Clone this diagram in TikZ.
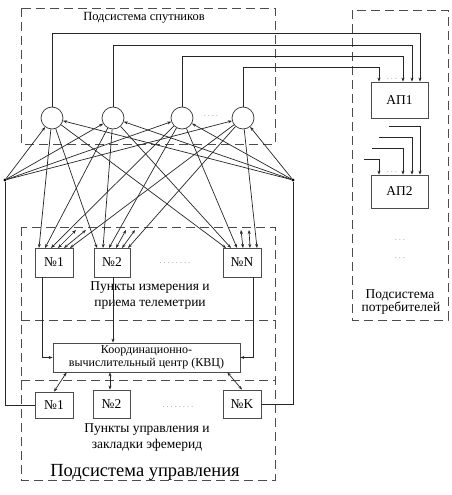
\documentclass[tikz,border=0pt]{standalone}
\usepackage{fontspec}
\setmainfont{Liberation Serif}
\usetikzlibrary{arrows.meta,calc}
\begin{document}
\begin{tikzpicture}[x=1pt,y=-1pt,
  conn/.style={line width=0.7pt,draw=black!85},
  arr/.style={conn,-{Stealth[length=4pt,width=3pt]}},
  darr/.style={conn,{Stealth[length=4pt,width=3pt]}-{Stealth[length=4pt,width=3pt]}},
  grp/.style={draw=black!70,line width=0.9pt,dash pattern=on 9pt off 5pt},
  sat/.style={circle,draw=black!80,line width=0.7pt,minimum size=22pt,inner sep=0pt},
  stbox/.style={draw=black!70,line width=0.8pt,minimum width=38pt,minimum height=29pt,inner sep=0pt,font=\fontsize{13.5}{14}\selectfont},
  lbl/.style={font=\fontsize{13.5}{15}\selectfont,inner sep=0pt,align=center},
  dotsl/.style={font=\fontsize{7}{8}\selectfont,inner sep=0pt,text=black!60},
  bp/.style={circle,fill=black,inner sep=0pt,minimum size=3.2pt}]
\useasboundingbox (0,0) rectangle (451,495);

% group boxes
\draw[grp] (21,8) rectangle (275,144);
\draw[grp] (21,227) rectangle (275,480);
\draw[grp] (21,320) -- (275,320);
\draw[grp] (21,380) -- (275,380);
\draw[grp] (352,10) rectangle (448,320);

% labels of groups
\node[lbl,font=\fontsize{12.5}{14}\selectfont] (tsat) at (144,18) {Подсистема спутников};
\node[lbl] (tmeas1) at (150,288) {Пункты измерения и};
\node[lbl] (tmeas2) at (150,305) {приема телеметрии};
\node[lbl] (tctl1) at (147,430) {Пункты управления и};
\node[lbl] (tctl2) at (147,445) {закладки эфемерид};
\node[lbl,font=\fontsize{18.5}{20}\selectfont] (tctl) at (145,472) {Подсистема управления};
\node[lbl] (tcons1) at (400,295) {Подсистема};
\node[lbl] (tcons2) at (401,308) {потребителей};

% satellites
\node[sat] (s1) at (52,118) {};
\node[sat] (s2) at (113,118) {};
\node[sat] (s3) at (182,118) {};
\node[sat] (s4) at (243,118) {};
\node[dotsl] (sd) at (211,116) {. . . .};

% branch points
\node[bp] (L) at (5,180) {};
\node[bp] (R) at (293,180) {};

% measurement stations
\node[stbox] (m1) at (54,262.5) {№1};
\node[stbox,minimum width=36pt] (m2) at (112,262.5) {№2};
\node[stbox] (mN) at (242,262.5) {№N};
\node[dotsl] (md) at (175,263) {. . . . . . . .};

% KVC
\node[stbox,minimum width=187pt,minimum height=29pt,align=center,font=\fontsize{12}{13}\selectfont] (kvc) at (146.5,357.5) {Координационно-\\вычислительный центр (КВЦ)};

% control stations
\node[stbox,minimum height=26pt] (c1) at (54,405) {№1};
\node[stbox,minimum width=37pt,minimum height=28pt] (c2) at (111.5,404) {№2};
\node[stbox,minimum height=28pt] (cK) at (242,404) {№K};
\node[dotsl] (cd) at (178,407) {. . . . . . . .};

% consumers
\node[stbox,minimum width=57pt,minimum height=36pt] (a1) at (399.5,100) {АП1};
\node[stbox,minimum width=57pt,minimum height=33pt] (a2) at (399.5,191.5) {АП2};
\node[dotsl] (ad1) at (400,240) {. . .};
\node[dotsl] (ad2) at (400,258) {. . .};
\node[dotsl] (ad3) at (392,79) {. . .};
\node[dotsl] (ad4) at (392,172) {. . .};

% satellites to AP1
\draw[arr] (s1.north) |- ([xshift=20.5pt,yshift=48pt]a1.north) -- ([xshift=20.5pt]a1.north);
\draw[arr] (s2.north) |- ([xshift=12.5pt,yshift=36pt]a1.north) -- ([xshift=12.5pt]a1.north);
\draw[arr] (s3.north) |- ([xshift=3.5pt,yshift=25pt]a1.north) -- ([xshift=3.5pt]a1.north);
\draw[arr] (s4.north) |- ([xshift=-20.5pt,yshift=14pt]a1.north) -- ([xshift=-20.5pt]a1.north);

% incoming stubs to AP2
\coordinate (q1) at (389,126);
\coordinate (q2) at (379,137);
\coordinate (q3) at (372,148);
\coordinate (q4) at (364,159);
\draw[arr] (q1) -| ([xshift=20.5pt]a2.north);
\draw[arr] (q2) -| ([xshift=12.5pt]a2.north);
\draw[arr] (q3) -| ([xshift=3.5pt]a2.north);
\draw[arr] (q4) -| ([xshift=-20.5pt]a2.north);

% branch points to satellites
\foreach \s in {s1,s2,s3,s4}{
  \draw[arr] (L) -- (\s);
  \draw[arr] (R) -- (\s);
}

% input points on stations
\coordinate (m1a) at (39,248);
\coordinate (m1b) at (45,248);
\coordinate (m1c) at (51,248);
\coordinate (m1d) at (70,248);
\coordinate (m2a) at (97,248);
\coordinate (m2b) at (103,248);
\coordinate (m2c) at (109,248);
\coordinate (m2d) at (128,248);
\coordinate (mNa) at (226,248);
\coordinate (mNb) at (231,248);
\coordinate (mNc) at (237,248);
\coordinate (mNd) at (257,248);

\foreach \m in {m1,m2,mN}{
  \draw[arr] (s1) -- (\m a);
  \draw[arr] (s2) -- (\m b);
  \draw[arr] (s3) -- (\m c);
  \draw[arr] (s4) -- (\m d);
}

% double arrows at stations
\coordinate (d11) at (58,248); \coordinate (e11) at (76,230);
\coordinate (d12) at (64,248); \coordinate (e12) at (86,230);
\coordinate (d21) at (116,248); \coordinate (e21) at (126,230);
\coordinate (d22) at (122,248); \coordinate (e22) at (135,230);
\coordinate (dN1) at (243,248); \coordinate (eN1) at (241,230);
\coordinate (dN2) at (250,248); \coordinate (eN2) at (249,230);
\draw[darr] (d11) -- (e11);
\draw[darr] (d12) -- (e12);
\draw[darr] (d21) -- (e21);
\draw[darr] (d22) -- (e22);
\draw[darr] (dN1) -- (eN1);
\draw[darr] (dN2) -- (eN2);

% measurement to KVC
\draw[arr] ([xshift=-12pt]m1.south) |- (kvc.west);
\draw[arr] ([xshift=1pt]m2.south) -- ([xshift=1pt]m2.south |- kvc.north);
\draw[arr] ([xshift=11pt]mN.south) |- (kvc.east);

% KVC to control stations
\draw[darr] ($(kvc.south west)+(14,0)$) -- (c1.north);
\draw[darr] ([xshift=-1.5pt]c2.north |- kvc.south) -- ([xshift=-1.5pt]c2.north);
\draw[darr] ($(kvc.south east)+(-13,0)$) -- (cK.north);

% branch points down to control stations
\draw[conn] (L) |- (c1.west);
\draw[conn] (R) |- (cK.east);
\end{tikzpicture}
\end{document}
